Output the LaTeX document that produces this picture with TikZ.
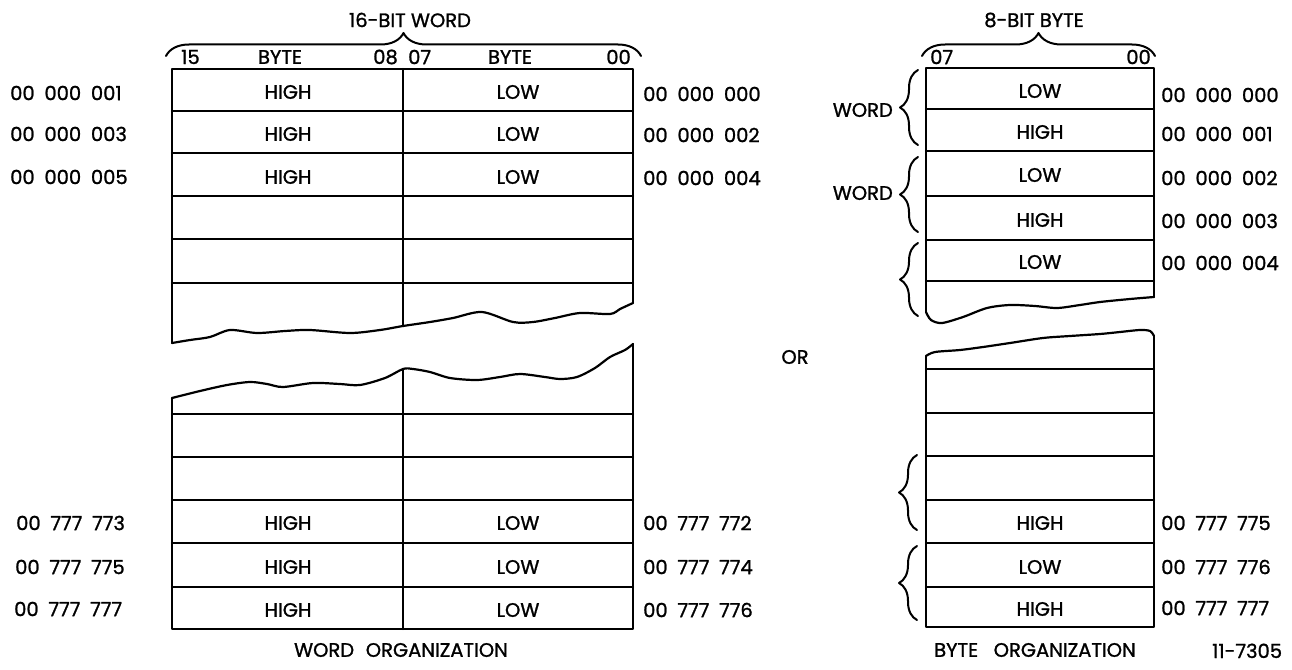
\documentclass[tikz,border=0pt]{standalone}
\usepackage{fontspec}
\setmainfont{Poppins}[FakeBold=1.2]
\usetikzlibrary{decorations.pathreplacing}
\newcommand{\grpsp}{\hspace{0.5em}}
\begin{document}
\begin{tikzpicture}[x=1pt,y=-1pt, line join=round, line cap=round,
  lbl/.style={font=\fontsize{19.5}{20}\selectfont, inner sep=0pt},
  tbl/.style={line width=2.2pt},
  brc/.style={decorate, decoration={brace, amplitude=#1}, line width=2pt},
  brc/.default=18]
\useasboundingbox[fill=white] (0,0) rectangle (1292,669);

% ---------------- left table (word organization) ----------------
\draw[tbl] (633,303) -- (633,69) -- (172,69) -- (172,343);
\draw[tbl] (403,69) -- (403,326);
\foreach \y in {111,153,196,239,283} \draw[tbl] (172,\y) -- (633,\y);
\draw[tbl] plot[smooth, tension=0.5] coordinates {(172,343) (190,340) (210,337) (230,330) (257,333) (285,331) (310,330) (350,333) (380,330) (403,326) (430,322) (453,318) (482,312) (513,322) (533,322) (555,318) (580,313) (610,314) (620,309) (633,303)};

\draw[tbl] (633,344) -- (633,629) -- (172,629) -- (172,398);
\draw[tbl] (403,369) -- (403,629);
\foreach \y in {414,457,500,543,587} \draw[tbl] (172,\y) -- (633,\y);
\draw[tbl] plot[smooth, tension=0.5] coordinates {(172,398) (200,391) (227,385) (250,382) (267,384) (283,387) (313,383) (340,384) (360,385) (385,378) (403,369) (413,369) (430,372) (450,378) (477,380) (500,377) (520,374) (545,377) (560,379) (577,377) (595,368) (610,357) (625,350) (633,344)};

% header
\draw[brc=23] (166,56) -- (641,56);
\node[lbl] (wtitle) at (410,20) {16-BIT WORD};
\node[lbl, anchor=west] (b15) at (181,57) {15};
\node[lbl] (bhi) at (280,57) {BYTE};
\node[lbl, anchor=east] (b08) at (398,57) {08};
\node[lbl, anchor=west] (b07) at (408,57) {07};
\node[lbl] (blo) at (510,57) {BYTE};
\node[lbl, anchor=east] (b00) at (631,57) {00};

% cells
\foreach \n/\y in {1/92,2/134,3/177,4/523,5/567,6/610} {
  \node[lbl] (wh\n) at (288,\y) {HIGH};
  \node[lbl] (wl\n) at (518,\y) {LOW};
}
\node[lbl, anchor=west] (lna1) at (10,93) {00\grpsp000\grpsp001};
\node[lbl, anchor=west] (lna2) at (10,134) {00\grpsp000\grpsp003};
\node[lbl, anchor=west] (lna3) at (10,177) {00\grpsp000\grpsp005};
\node[lbl, anchor=west] (lna4) at (16,523) {00\grpsp777\grpsp773};
\node[lbl, anchor=west] (lna5) at (15,567) {00\grpsp777\grpsp775};
\node[lbl, anchor=west] (lna6) at (14,609) {00\grpsp777\grpsp777};
\node[lbl, anchor=west] (rna1) at (643,94) {00\grpsp000\grpsp000};
\node[lbl, anchor=west] (rna2) at (643,135) {00\grpsp000\grpsp002};
\node[lbl, anchor=west] (rna3) at (643,178) {00\grpsp000\grpsp004};
\node[lbl, anchor=west] (rna4) at (643,523) {00\grpsp777\grpsp772};
\node[lbl, anchor=west] (rna5) at (643,567) {00\grpsp777\grpsp774};
\node[lbl, anchor=west] (rna6) at (643,610) {00\grpsp777\grpsp776};

\node[lbl] (wcap) at (401,650) {WORD\hspace{0.6em}ORGANIZATION};

% ---------------- OR ----------------
\node[lbl] (ortxt) at (795,357) {OR};

% ---------------- right table (byte organization) ----------------
\draw[tbl] (1154,297) -- (1154,68) -- (926,68) -- (926,312);
\foreach \y in {109,151,196,240,281} \draw[tbl] (926,\y) -- (1154,\y);
\draw[tbl] plot[smooth, tension=0.5] coordinates {(926,312) (931,320) (942,323) (963,317) (987,308) (1010,305) (1035,306) (1057,308) (1080,305) (1100,302) (1130,299) (1154,297)};

\draw[tbl] (1154,336) -- (1154,627) -- (926,627) -- (926,356);
\foreach \y in {369,413,456,500,543,587} \draw[tbl] (926,\y) -- (1154,\y);
\draw[tbl] plot[smooth, tension=0.5] coordinates {(926,356) (935,352) (960,350) (983,347) (1010,343) (1043,338) (1070,336) (1100,334) (1120,332) (1140,330) (1150,331) (1154,336)};

% header
\draw[brc=23] (922,56) -- (1155,56);
\node[lbl] (btitle) at (1034,20) {8-BIT BYTE};
\node[lbl, anchor=west] (c07) at (930,57) {07};
\node[lbl, anchor=east] (c00) at (1151,57) {00};

% cells
\node[lbl] (r1) at (1040,91) {LOW};
\node[lbl] (r2) at (1040,132) {HIGH};
\node[lbl] (r3) at (1040,175) {LOW};
\node[lbl] (r4) at (1040,220) {HIGH};
\node[lbl] (r5) at (1040,262) {LOW};
\node[lbl] (r6) at (1040,523) {HIGH};
\node[lbl] (r7) at (1040,567) {LOW};
\node[lbl] (r8) at (1040,609) {HIGH};

\node[lbl, anchor=west] (bn1) at (1161,95) {00\grpsp000\grpsp000};
\node[lbl, anchor=west] (bn2) at (1161,134) {00\grpsp000\grpsp001};
\node[lbl, anchor=west] (bn3) at (1161,178) {00\grpsp000\grpsp002};
\node[lbl, anchor=west] (bn4) at (1161,221) {00\grpsp000\grpsp003};
\node[lbl, anchor=west] (bn5) at (1161,263) {00\grpsp000\grpsp004};
\node[lbl, anchor=west] (bn6) at (1161,523) {00\grpsp777\grpsp775};
\node[lbl, anchor=west] (bn7) at (1161,567) {00\grpsp777\grpsp776};
\node[lbl, anchor=west] (bn8) at (1161,608) {00\grpsp777\grpsp777};

% braces
\draw[brc] (918,145) -- (918,70);
\draw[brc] (918,232) -- (918,157);
\draw[brc] (918,316) -- (918,243);
\draw[brc] (917,530) -- (917,455);
\draw[brc] (917,620) -- (917,546);
\node[lbl, anchor=east] (word1) at (893,110) {WORD};
\node[lbl, anchor=east] (word2) at (893,193) {WORD};

\node[lbl] (bcap) at (1035,650) {BYTE\hspace{0.8em}ORGANIZATION};
\node[lbl, anchor=base west] (fig) at (1212,658) {11-7305};
\end{tikzpicture}
\end{document}
